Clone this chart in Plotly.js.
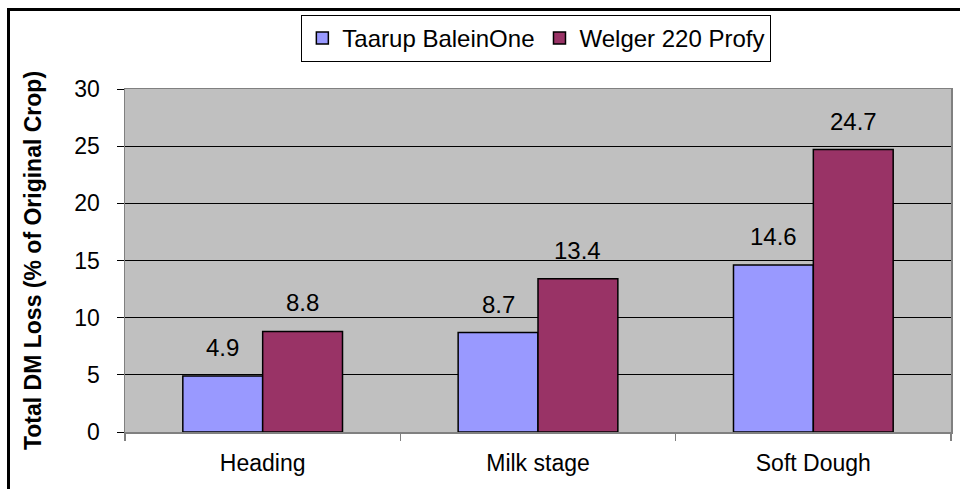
<!DOCTYPE html>
<html>
<head>
<meta charset="utf-8">
<script src="https://cdn.plot.ly/plotly-3.0.1.min.js"></script>
<style>
  html, body { margin: 0; padding: 0; background: #fff; }
  #wrap { position: relative; width: 960px; height: 489px; overflow: hidden; }
  #chart { position: absolute; left: 0; top: 0; width: 960px; height: 489px; }
  #frame { position: absolute; left: 7px; top: 8px; width: 980px; height: 500px;
           border-top: 3px solid #000; border-left: 3px solid #000; pointer-events: none; }
</style>
</head>
<body>
<div id="wrap">
  <div id="chart"></div>
  <div id="frame"></div>
</div>
<script>
const categories = ["Heading", "Milk stage", "Soft Dough"];
const seriesNames = ["Taarup BaleinOne", "Welger 220 Profy"];
const taarup = [4.9, 8.7, 14.6];
const welger = [8.8, 13.4, 24.7];
const yTicks = [0, 5, 10, 15, 20, 25, 30];

const FONT = "Liberation Sans, Arial, sans-serif";
const bargap = 0.42;
const off = (1 - bargap) / 4;

const traces = [
  { type: "bar", name: seriesNames[0], x: categories, y: taarup,
    marker: { color: "#9999FF", line: { color: "#000", width: 1.5 } } },
  { type: "bar", name: seriesNames[1], x: categories, y: welger,
    marker: { color: "#993366", line: { color: "#000", width: 1.5 } } }
];

const annotations = [];
[taarup, welger].forEach((vals, s) => {
  vals.forEach((v, i) => {
    annotations.push({
      x: i + (s === 0 ? -off : off), y: v, xref: "x", yref: "y",
      text: v.toFixed(1), showarrow: false, yanchor: "bottom", yshift: 13,
      font: { family: FONT, size: 24, color: "#000" }
    });
  });
});

const layout = {
  width: 960, height: 489,
  margin: { l: 125, r: 9, t: 89, b: 57, pad: 0 },
  paper_bgcolor: "#fff", plot_bgcolor: "#C0C0C0",
  barmode: "group", bargap: bargap, bargroupgap: 0,
  showlegend: true,
  legend: {
    orientation: "h", x: 0.498, xanchor: "center", y: 1.216, yanchor: "top",
    bordercolor: "#000", borderwidth: 1, bgcolor: "#fff",
    font: { family: FONT, size: 24, color: "#000" },
    itemwidth: 30, tracegroupgap: 0
  },
  xaxis: {
    type: "category", showline: true, linecolor: "#808080", linewidth: 1.5, mirror: true,
    ticks: "outside", tickson: "boundaries", ticklen: 7, tickcolor: "#808080", tickwidth: 1.5,
    tickfont: { family: FONT, size: 23, color: "#000" }, ticklabelstandoff: 10,
    showgrid: false, zeroline: false, range: [-0.5, 2.5]
  },
  yaxis: {
    range: [0, 30], tickvals: yTicks, ticktext: yTicks.map(String),
    showline: true, linecolor: "#808080", linewidth: 1.5, mirror: true,
    ticks: "outside", ticklen: 7, tickcolor: "#000", tickwidth: 1,
    showgrid: true, gridcolor: "#000", gridwidth: 1, zeroline: false,
    tickfont: { family: FONT, size: 23, color: "#000" }, ticklabelstandoff: 12,
    title: { text: "<b>Total DM Loss (% of Original Crop)</b>", standoff: 26,
             font: { family: FONT, size: 23, color: "#000" } }
  },
  annotations: annotations,
  font: { family: FONT, color: "#000" }
};

Plotly.newPlot("chart", traces, layout, { staticPlot: true, displayModeBar: false });
</script>
</body>
</html>
